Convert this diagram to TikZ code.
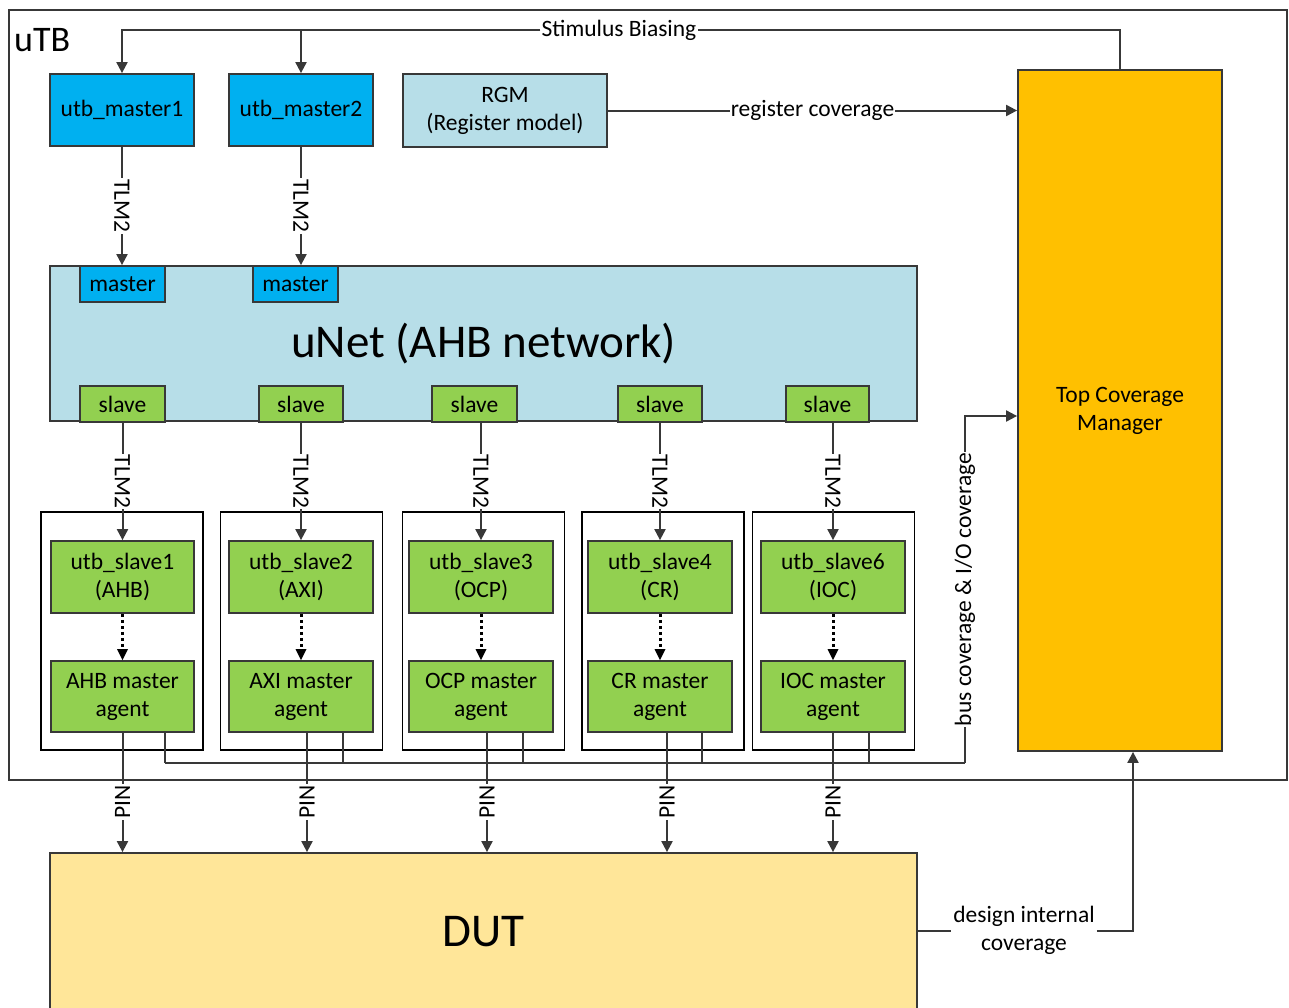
\documentclass[tikz,border=0pt]{standalone}
\usepackage{fontspec}
\setmainfont{Carlito}
\usetikzlibrary{arrows.meta}
\definecolor{mblue}{HTML}{00B0F0}
\definecolor{lblue}{HTML}{B7DEE8}
\definecolor{lgreen}{HTML}{92D050}
\definecolor{orng}{HTML}{FFC000}
\definecolor{dutyel}{HTML}{FFE699}
\definecolor{bord}{HTML}{383838}
\newcommand\fsn{\fontsize{23.5}{28}\selectfont}
\newcommand\fsbig{\fontsize{47}{52}\selectfont}
\newcommand\fsutb{\fontsize{36}{40}\selectfont}
\begin{document}
\begin{tikzpicture}[x=1pt,y=-1pt,
  box/.style={draw=bord, line width=1.8pt, align=center, inner sep=0pt, font=\fsn, text=black},
  mbox/.style={box, fill=mblue},
  gbox/.style={box, fill=lgreen},
  colbox/.style={draw=black, line width=1.2pt, fill=white, minimum width=162pt, minimum height=238pt, inner sep=0pt},
  conn/.style={draw=bord, line width=2pt},
  arr/.style={conn, -{Triangle[length=11pt,width=11pt]}},
  dotarr/.style={draw=black, line width=3pt, dash pattern=on 3pt off 3pt, -{Triangle[length=11pt,width=11pt,line width=0pt]}},
  lbl/.style={fill=white, inner sep=1pt, font=\fsn, text=black, align=center},
]
\useasboundingbox (0,0) rectangle (1289,1007);

% outer uTB frame
\node[draw=bord, line width=1.6pt, minimum width=1278pt, minimum height=770pt, inner sep=0pt] (utb) at (648,395) {};
\node[anchor=west, font=\fsutb, inner sep=0pt] (utblab) at (14,40) {uTB};

% top row
\node[mbox, minimum width=144pt, minimum height=72pt] (m1) at (122,110) {utb\_master1};
\node[mbox, minimum width=144pt, minimum height=72pt] (m2) at (301,110) {utb\_master2};
\node[box, fill=lblue, minimum width=204pt, minimum height=73pt] (rgm) at (505,110.5) {RGM\\(Register model)};

% top coverage manager
\node[box, fill=orng, minimum width=204pt, minimum height=681pt] (tcm) at (1120,410.5) {Top Coverage\\Manager};

% uNet
\node[box, fill=lblue, minimum width=867pt, minimum height=155pt, font=\fsbig] (unet) at (483.5,343.5) {uNet (AHB network)};
\node[mbox, minimum width=85pt, minimum height=36pt] (mp1) at (122.5,284) {master};
\node[mbox, minimum width=85pt, minimum height=36pt] (mp2) at (295.5,284) {master};

\node[gbox, minimum width=85pt, minimum height=36pt] (sp1) at (122.5,404) {slave};
\node[gbox, minimum width=84pt, minimum height=36pt] (sp2) at (301,404) {slave};
\node[gbox, minimum width=85pt, minimum height=36pt] (sp3) at (474.5,404) {slave};
\node[gbox, minimum width=84pt, minimum height=36pt] (sp4) at (660,404) {slave};
\node[gbox, minimum width=83pt, minimum height=36pt] (sp5) at (827.5,404) {slave};

% columns
\node[colbox] (c1) at (122,631) {};
\node[colbox] (c2) at (301.5,631) {};
\node[colbox] (c3) at (483.5,631) {};
\node[colbox] (c4) at (663,631) {};
\node[colbox] (c5) at (833.5,631) {};

\node[gbox, minimum width=143pt, minimum height=72pt] (us1) at (122.5,577) {utb\_slave1\\(AHB)};
\node[gbox, minimum width=144pt, minimum height=72pt] (us2) at (301,577) {utb\_slave2\\(AXI)};
\node[gbox, minimum width=144pt, minimum height=72pt] (us3) at (481,577) {utb\_slave3\\(OCP)};
\node[gbox, minimum width=144pt, minimum height=72pt] (us4) at (660,577) {utb\_slave4\\(CR)};
\node[gbox, minimum width=144pt, minimum height=72pt] (us5) at (833,577) {utb\_slave6\\(IOC)};

\node[gbox, minimum width=143pt, minimum height=71pt] (ag1) at (122.5,696.5) {AHB master\\agent};
\node[gbox, minimum width=144pt, minimum height=71pt] (ag2) at (301,696.5) {AXI master\\agent};
\node[gbox, minimum width=144pt, minimum height=71pt] (ag3) at (481,696.5) {OCP master\\agent};
\node[gbox, minimum width=144pt, minimum height=71pt] (ag4) at (660,696.5) {CR master\\agent};
\node[gbox, minimum width=144pt, minimum height=71pt] (ag5) at (833,696.5) {IOC master\\agent};

% DUT
\node[box, fill=dutyel, minimum width=867pt, minimum height=158pt, font=\fsbig] (dut) at (483.5,932) {DUT};

% Stimulus biasing
\node[lbl] (sb) at (619,30) {Stimulus Biasing};
\draw[conn] (tcm.north) |- (sb.east);
\draw[arr] (sb.west) -| (m1.north);
\draw[arr] (sb.west -| m2.north) -- (m2.north);

% register coverage
\draw[arr] (rgm.east) -- node[lbl] {register coverage} (rgm.east -| tcm.west);

% TLM2 master links
\draw[arr] (m1.south) -- node[lbl, rotate=-90] {TLM2} (m1.south |- mp1.north);
\draw[arr] (m2.south) -- node[lbl, rotate=-90] {TLM2} (m2.south |- mp2.north);

% TLM2 slave links and dotted links
\foreach \i in {1,...,5}{
  \draw[arr] (us\i.north |- sp\i.south) -- node[lbl, rotate=-90] {TLM2} (us\i.north);
  \draw[dotarr] (us\i.south) -- (ag\i.north);
}

% PIN links
\foreach \i/\dx in {1/0,2/6,3/6,4/7,5/0}{
  \draw[arr] ([xshift=\dx pt]ag\i.south) -- node[lbl, rotate=90, pos=0.58] {PIN} ([xshift=\dx pt]ag\i.south |- dut.north);
}

% bus coverage
\coordinate (busL) at (165,763);
\coordinate (busR) at (965,763);
\coordinate (busT) at ([yshift=-5.5pt]tcm.west);
\foreach \i/\dx in {1/42.5,2/42,3/42,4/42,5/36}{
  \draw[conn] ([xshift=\dx pt]ag\i.south) -- ([xshift=\dx pt]ag\i.south |- busL);
}
\draw[conn] (busL) -- (busR);
\draw[arr] (busR) -- node[lbl, rotate=90] {bus coverage \& I/O coverage} (busR |- busT) -- (busT);

% design internal coverage
\node[lbl, inner sep=2pt] (dic) at (1024,930) {design internal\\coverage};
\draw[conn] (dut.east |- 0,931) -- (dic.west |- 0,931);
\draw[arr] (dic.east |- 0,931) -| ([xshift=13pt]tcm.south);
\end{tikzpicture}
\end{document}
